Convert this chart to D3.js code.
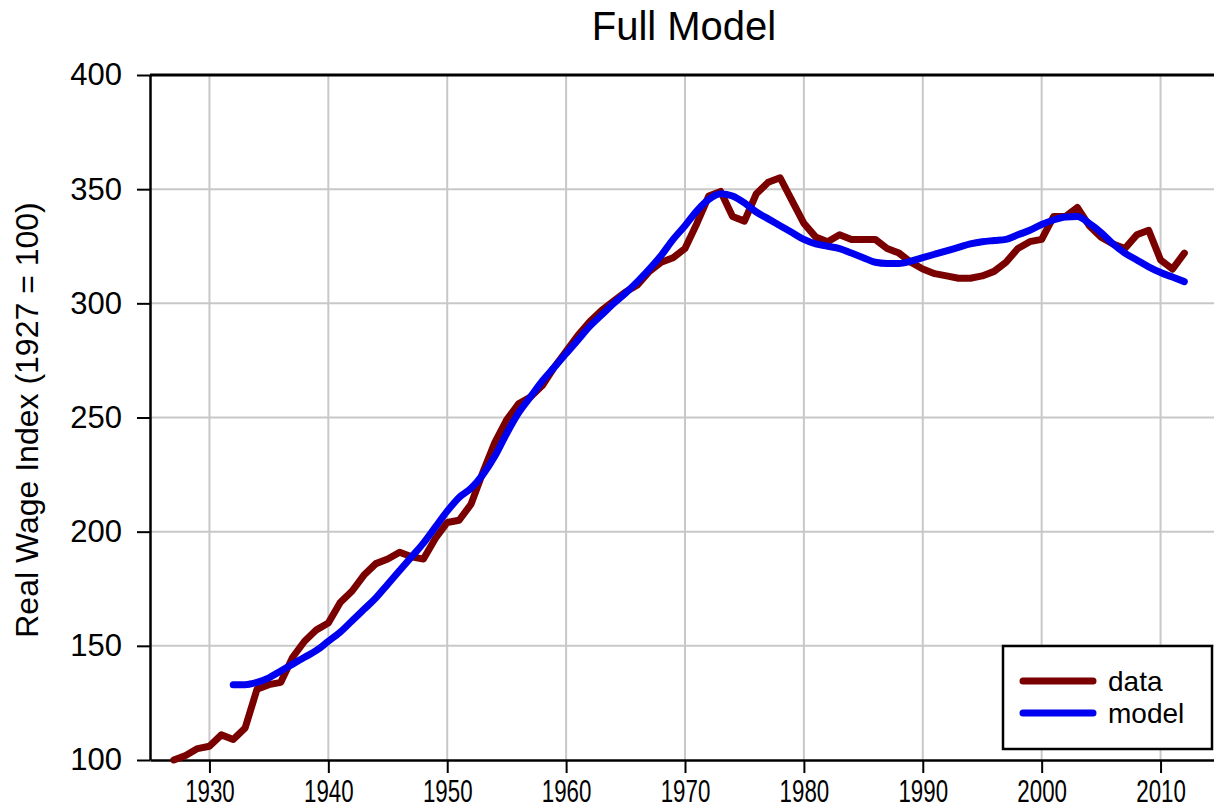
<!DOCTYPE html>
<html>
<head>
<meta charset="utf-8">
<script src="https://cdn.jsdelivr.net/npm/d3@7"></script>
<style>
  body { margin: 0; background: #fff; }
  text { font-family: "Liberation Sans", Arial, sans-serif; }
</style>
</head>
<body>
<div id="svg-container"></div>
<script>
// data
const dataYears = d3.range(1927, 2013);
const dataValues = [
  100, 102, 105, 106, 111, 109, 114, 131, 133, 134,
  145, 152, 157, 160, 169, 174, 181, 186, 188, 191,
  189, 188, 197, 204, 205, 212, 226, 239, 249, 256,
  259, 264, 272, 279, 286, 292, 297, 301, 305, 308,
  314, 318, 320, 324, 335, 347, 349, 338, 336, 348,
  353, 355, 345, 335, 329, 327, 330, 328, 328, 328,
  324, 322, 318, 315, 313, 312, 311, 311, 312, 314,
  318, 324, 327, 328, 338, 338, 342, 334, 329, 326,
  324, 330, 332, 319, 315, 322
];
const modelYears = d3.range(1932, 2013);
const modelValues = [
  133, 133, 134, 136, 139, 142, 145, 148, 152, 156,
  161, 166, 171, 177, 183, 189, 195, 202, 209, 215,
  219, 225, 233, 243, 252, 259, 266, 272, 278, 284,
  290, 295, 300, 304.5, 309.5, 315, 321, 328, 334, 340.5,
  345.5, 348, 347, 344, 340, 337, 334, 331, 328, 326,
  325, 324, 322, 320, 318, 317.5, 317.5, 318.5, 320, 321.5,
  323, 324.5, 326, 327, 327.5, 328, 330, 332, 334.5, 336.5,
  337.8, 338, 335, 331, 326, 322, 319, 316, 313.5, 311.5,
  309.5
];
const xTicks = [1930, 1940, 1950, 1960, 1970, 1980, 1990, 2000, 2010];
const yTicks = [100, 150, 200, 250, 300, 350, 400];
const seriesNames = ["data", "model"];
const seriesColors = ["#7a0000", "#0000f0"];

const width = 1214, height = 810;
const margin = { top: 75, right: -6, bottom: 50, left: 150 };

const svg = d3.select("#svg-container").append("svg")
  .attr("width", width).attr("height", height);

const xScale = d3.scaleLinear().domain([1925, 2015]).range([margin.left, width - margin.right]);
const yScale = d3.scaleLinear().domain([100, 400]).range([height - margin.bottom, margin.top]);

// grid
svg.append("g").selectAll("line").data(xTicks).join("line")
  .attr("x1", d => xScale(d)).attr("x2", d => xScale(d))
  .attr("y1", yScale(100)).attr("y2", yScale(400))
  .attr("stroke", "#c8c8c8").attr("stroke-width", 2);
svg.append("g").selectAll("line").data(yTicks.slice(1, -1)).join("line")
  .attr("x1", xScale(1925)).attr("x2", width)
  .attr("y1", d => yScale(d)).attr("y2", d => yScale(d))
  .attr("stroke", "#c8c8c8").attr("stroke-width", 2);

// axes
const xAxis = d3.axisBottom(xScale).tickValues(xTicks).tickFormat(d3.format("d"))
  .tickSize(13).tickPadding(7).tickSizeOuter(0);
const yAxis = d3.axisLeft(yScale).tickValues(yTicks)
  .tickSize(13).tickPadding(15).tickSizeOuter(0);

const gx = svg.append("g").attr("transform", `translate(0,${yScale(100)})`).call(xAxis);
const gy = svg.append("g").attr("transform", `translate(${xScale(1925)},0)`).call(yAxis);
[gx, gy].forEach(g => {
  g.select(".domain").attr("stroke", "#000").attr("stroke-width", 2.5);
  g.selectAll(".tick line").attr("stroke", "#000").attr("stroke-width", 2);
  g.selectAll(".tick text").attr("fill", "#000")
    .style("font-family", "Liberation Sans, Arial, sans-serif");
});
gx.selectAll(".tick text").style("font-size", "31px").attr("transform", "scale(0.72,1)");
gy.selectAll(".tick text").style("font-size", "31px");

// top border
svg.append("line")
  .attr("x1", xScale(1925)).attr("x2", width)
  .attr("y1", yScale(400)).attr("y2", yScale(400))
  .attr("stroke", "#000").attr("stroke-width", 3);

// lines
const line = d3.line().x(d => xScale(d[0])).y(d => yScale(d[1]));
svg.append("path")
  .datum(d3.zip(dataYears, dataValues))
  .attr("d", line).attr("fill", "none")
  .attr("stroke", seriesColors[0]).attr("stroke-width", 7)
  .attr("stroke-linejoin", "round").attr("stroke-linecap", "round");
svg.append("path")
  .datum(d3.zip(modelYears, modelValues))
  .attr("d", line.curve(d3.curveMonotoneX)).attr("fill", "none")
  .attr("stroke", seriesColors[1]).attr("stroke-width", 7)
  .attr("stroke-linejoin", "round").attr("stroke-linecap", "round");

// title
svg.append("text")
  .attr("x", 684).attr("y", 40)
  .attr("text-anchor", "middle")
  .style("font-size", "40px")
  .text("Full Model");

// y label
svg.append("text")
  .attr("transform", "translate(38,420) rotate(-90)")
  .attr("text-anchor", "middle")
  .style("font-size", "32px")
  .text("Real Wage Index (1927 = 100)");

// legend
const legend = svg.append("g").attr("transform", "translate(1003,646)");
legend.append("rect")
  .attr("width", 209).attr("height", 103)
  .attr("fill", "#fff").attr("stroke", "#000").attr("stroke-width", 2.5);
seriesNames.forEach((name, i) => {
  const y = 35 + i * 32;
  legend.append("line")
    .attr("x1", 20).attr("x2", 90).attr("y1", y).attr("y2", y)
    .attr("stroke", seriesColors[i]).attr("stroke-width", 7)
    .attr("stroke-linecap", "round");
  legend.append("text")
    .attr("x", 105).attr("y", y + 10)
    .style("font-size", "28px")
    .text(name);
});
</script>
</body>
</html>
